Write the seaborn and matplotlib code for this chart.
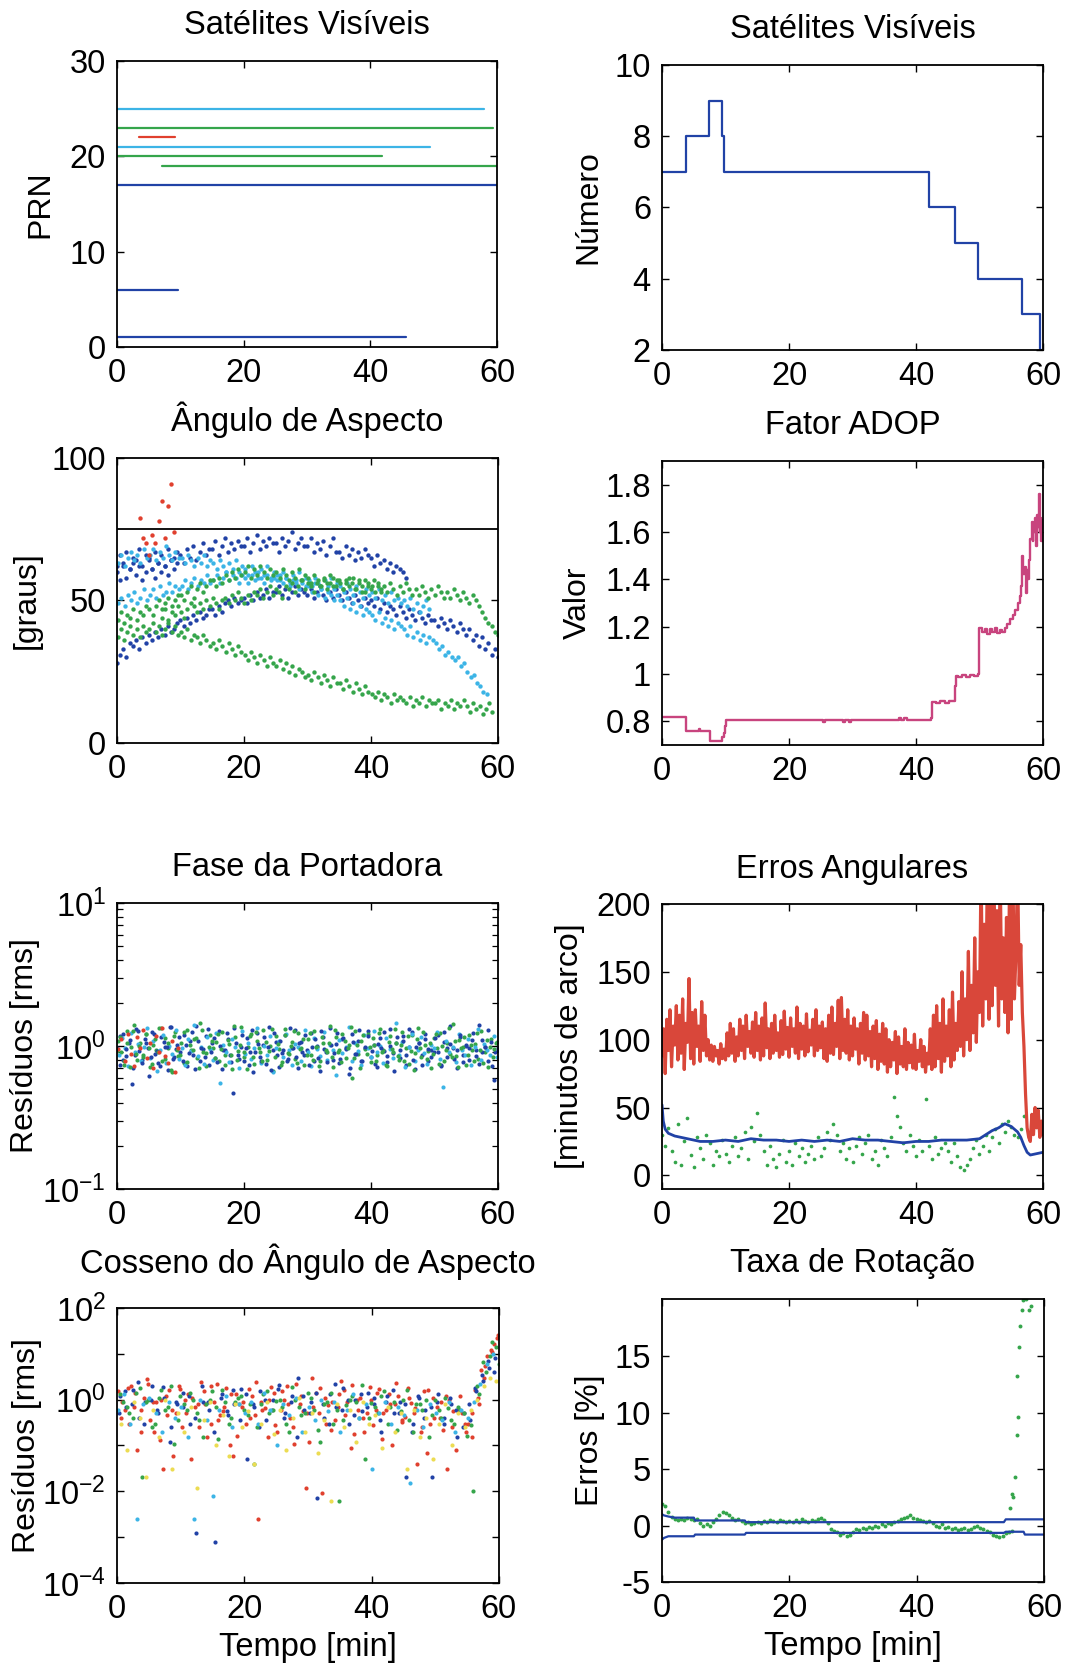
import numpy as np
import matplotlib
matplotlib.use("Agg")
import matplotlib.pyplot as plt
import seaborn as sns
from matplotlib.ticker import FixedLocator, FuncFormatter, NullLocator, LogLocator, NullFormatter

# ------------------------------------------------------------------
# Satélites visíveis: PRN, início e fim (min) de cada passagem
# ------------------------------------------------------------------
PRN_IDS = [25, 23, 22, 21, 20, 19, 17, 6, 1]
PRN_INICIO = [0.0, 0.0, 3.5, 0.0, 0.0, 7.1, 0.0, 0.0, 0.0]
PRN_FIM = [58.0, 59.3, 9.1, 49.4, 41.8, 60.0, 60.0, 9.7, 45.6]
PRN_COR = ["ciano", "verde", "vermelho", "ciano", "verde", "verde", "azul", "azul", "azul"]

# Número de satélites visíveis (degraus)
NUM_T = [0, 3.8, 7.4, 9.5, 9.8, 42.1, 46.1, 49.8, 56.7, 59.5, 60]
NUM_SAT = [7, 8, 9, 8, 7, 6, 5, 4, 3, 2, 2]

# ------------------------------------------------------------------
# Ângulo de aspecto [graus], amostras a cada 0,5 min
# ------------------------------------------------------------------
LIMIAR_ASPECTO = 75
ASP_PRN17 = [28, 31, 33, 30, 35, 34, 36, 33, 37, 35,
             38, 36, 39, 37, 40, 38, 41, 39, 40, 42,
             43, 41, 44, 42, 45, 43, 46, 44, 45, 47,
             47, 45, 48, 46, 49, 50, 48, 51, 49, 50,
             51, 49, 52, 50, 53, 51, 52, 54, 51, 53,
             53, 55, 52, 54, 51, 53, 55, 52, 54, 53,
             52, 54, 51, 53, 55, 52, 50, 53, 51, 54,
             52, 50, 53, 51, 49, 52, 50, 48, 51, 49,
             50, 48, 51, 47, 49, 46, 48, 47, 45, 48,
             46, 44, 47, 45, 43, 46, 44, 42, 45, 43,
             43, 41, 44, 42, 40, 43, 41, 39, 42, 40,
             38, 40, 36, 38, 34, 37, 33, 35, 31, 33, 30]
ASP_PRN1 = [62, 66, 63, 67, 61, 65, 64, 68, 62, 66,
            65, 61, 67, 63, 66, 62, 68, 64, 65, 67,
            66, 63, 68, 65, 69, 64, 67, 70, 66, 68,
            68, 71, 66, 69, 72, 67, 70, 68, 71, 69,
            69, 72, 67, 70, 73, 68, 71, 69, 72, 70,
            70, 67, 72, 69, 71, 74, 68, 70, 72, 69,
            69, 72, 67, 70, 68, 71, 66, 69, 72, 67,
            67, 65, 69, 66, 68, 64, 67, 65, 68, 66,
            65, 62, 66, 63, 64, 61, 63, 60, 62, 61,
            60, 58]
ASP_PRN6 = [60, 57, 62, 58, 61, 63, 59, 62, 57, 60,
            64, 61, 58, 63, 60, 62, 59, 64, 61, 63]
ASP_PRN22 = [79, 72, 70, 66, 73, 70, 78, 85, 72, 83, 91, 74]
ASP_PRN25 = [49, 51, 48, 52, 50, 53, 49, 51, 54, 50,
             52, 54, 51, 55, 52, 53, 56, 53, 55, 54,
             55, 57, 54, 56, 58, 55, 57, 56, 59, 56,
             57, 59, 56, 58, 60, 57, 59, 58, 56, 59,
             58, 56, 59, 57, 60, 58, 56, 59, 57, 58,
             57, 59, 56, 58, 55, 57, 56, 54, 57, 55,
             55, 53, 56, 52, 54, 51, 53, 52, 50, 52,
             50, 48, 51, 47, 49, 46, 48, 45, 47, 46,
             45, 43, 46, 42, 44, 41, 43, 40, 42, 41,
             40, 38, 41, 37, 39, 36, 38, 35, 37, 36,
             35, 33, 34, 31, 32, 30, 29, 30, 27, 28,
             25, 23, 24, 21, 20, 18, 17]
ASP_PRN21 = [63, 66, 62, 65, 67, 64, 66, 63, 68, 65,
             66, 68, 64, 67, 65, 69, 66, 64, 67, 65,
             65, 63, 66, 64, 62, 65, 63, 66, 62, 64,
             63, 61, 64, 62, 60, 63, 61, 64, 60, 62,
             61, 59, 62, 60, 58, 61, 59, 62, 58, 60,
             59, 57, 60, 58, 56, 59, 57, 60, 56, 58,
             57, 55, 58, 56, 54, 57, 55, 58, 54, 56,
             55, 53, 56, 54, 52, 55, 53, 51, 54, 52,
             53, 51, 54, 50, 52, 49, 53, 50, 51, 49,
             50, 48, 51, 47, 49, 46, 48, 50, 47]
ASP_PRN23 = [37, 40, 36, 39, 41, 38, 40, 37, 41, 39,
             40, 42, 39, 41, 38, 40, 42, 39, 41, 38,
             39, 37, 40, 36, 38, 37, 35, 38, 36, 34,
             35, 33, 36, 34, 32, 35, 33, 31, 34, 32,
             31, 29, 32, 30, 28, 31, 29, 27, 30, 28,
             27, 29, 26, 28, 25, 27, 24, 26, 25, 23,
             24, 22, 25, 23, 21, 24, 22, 20, 23, 21,
             21, 19, 22, 20, 18, 21, 19, 17, 20, 18,
             17, 16, 18, 15, 17, 16, 14, 17, 15, 16,
             15, 14, 16, 13, 15, 14, 16, 13, 15, 14,
             14, 15, 12, 14, 13, 15, 12, 14, 13, 15,
             13, 11, 14, 12, 13, 10, 12, 14, 11]
ASP_PRN20 = [43, 46, 42, 45, 44, 47, 43, 46, 45, 48,
             47, 45, 48, 50, 47, 49, 51, 48, 50, 52,
             52, 50, 53, 55, 51, 54, 56, 53, 55, 57,
             57, 55, 58, 56, 59, 57, 60, 58, 61, 59,
             60, 62, 58, 61, 59, 62, 60, 58, 61, 59,
             60, 58, 61, 59, 57, 60, 58, 61, 57, 59,
             58, 56, 59, 57, 55, 58, 56, 59, 55, 57,
             56, 54, 57, 55, 58, 54, 56, 53, 57, 55,
             55, 53, 56, 54]
ASP_PRN19 = [44, 47, 43, 46, 45, 48, 46, 44, 47, 49,
             48, 46, 49, 47, 50, 48, 51, 49, 47, 50,
             51, 49, 52, 50, 53, 51, 49, 52, 50, 53,
             52, 54, 51, 53, 55, 52, 54, 53, 51, 55,
             54, 56, 53, 55, 57, 54, 56, 55, 53, 56,
             55, 57, 54, 56, 58, 55, 57, 54, 56, 58,
             56, 54, 57, 55, 53, 56, 54, 57, 55, 53,
             55, 53, 56, 54, 52, 55, 53, 56, 54, 52,
             54, 52, 55, 53, 51, 54, 52, 55, 53, 51,
             53, 51, 54, 52, 50, 53, 51, 49, 52, 50,
             48, 46, 44, 42, 41, 39, 38]

# ------------------------------------------------------------------
# Fator ADOP
# ------------------------------------------------------------------
ADOP_T = [0, 3.8, 5.8, 6.0, 7.5, 9.5, 9.7, 9.9, 10.0,
          25.4, 25.7, 28.5, 28.8, 29.4, 29.7,
          37.3, 37.6, 38.1, 38.6,
          42.3, 42.5, 43.2, 43.8, 44.5, 45.2,
          46.1, 46.3, 46.6, 47.2, 47.9, 48.5, 49.1, 49.7,
          49.9, 50.0, 50.4, 50.8, 51.2, 51.6, 52.0, 52.4, 52.8, 53.2, 53.6, 54.0,
          54.4, 54.8, 55.2, 55.6, 56.0, 56.3, 56.5, 56.7, 56.9, 57.1,
          57.3, 57.45, 57.6, 57.8, 58.0, 58.2, 58.35, 58.5, 58.7, 58.9,
          59.05, 59.2, 59.35, 59.5, 59.6, 59.7, 60]
ADOP_V = [0.817, 0.758, 0.766, 0.758, 0.716, 0.735, 0.752, 0.778, 0.806,
          0.797, 0.806, 0.797, 0.804, 0.796, 0.806,
          0.812, 0.806, 0.812, 0.806,
          0.812, 0.882, 0.877, 0.885, 0.878, 0.884,
          0.950, 0.992, 0.986, 0.995, 0.988, 0.996, 0.990, 1.000,
          1.080, 1.195, 1.175, 1.190, 1.170, 1.188, 1.178, 1.192, 1.172, 1.186, 1.176, 1.195,
          1.210, 1.230, 1.250, 1.270, 1.300, 1.330, 1.370, 1.500, 1.420, 1.450,
          1.340, 1.440, 1.400, 1.480, 1.570, 1.640, 1.560, 1.600, 1.660, 1.540,
          1.670, 1.620, 1.760, 1.600, 1.660, 1.560, 1.650]

# ------------------------------------------------------------------
# Fase da portadora: resíduos rms, amostras a cada 0,5 min
# ------------------------------------------------------------------
FASE_AZUL_A = [0.96, 0.74, 1.22, 0.85, 1.10, 0.70, 1.31, 0.92, 0.80, 1.05,
               0.62, 1.26, 0.88, 0.76, 1.15, 0.99, 0.68, 1.35, 0.83, 1.02,
               0.90, 1.20, 0.72, 1.08, 0.86, 1.38, 0.78, 0.95, 1.17, 0.73,
               1.04, 0.82, 1.28, 0.69, 0.93, 1.12, 0.77, 1.33, 0.87, 0.98,
               0.79, 1.14, 0.91, 0.66, 1.24, 0.84, 1.01, 0.75, 1.36, 0.94,
               1.07, 0.71, 0.89, 1.19, 0.81, 0.97, 1.29, 0.70, 1.06, 0.86,
               0.93, 1.23, 0.78, 1.00, 0.67, 1.16, 0.90, 1.34, 0.80, 1.03,
               0.76, 1.11, 0.95, 0.64, 1.21, 0.88, 1.09, 0.79, 0.97, 1.27,
               0.84, 1.02, 0.71, 1.13, 0.92, 0.77, 1.32, 0.89, 1.05, 0.82,
               1.18, 0.74, 0.99, 1.25, 0.69, 1.04, 0.86, 1.12, 0.78, 0.94,
               0.91, 1.20, 0.73, 1.07, 0.83, 1.37, 0.96, 0.70, 1.15, 0.87,
               1.00, 0.80, 1.24, 0.93, 0.75, 1.10, 0.98, 1.30, 0.72, 0.90, 0.97]
FASE_VERDE_A = [1.08, 0.90, 0.74, 1.27, 0.98, 1.40, 0.80, 1.05, 0.87, 1.22,
                0.71, 1.01, 0.93, 1.33, 0.79, 1.14, 0.96, 0.66, 1.25, 0.85,
                1.04, 0.76, 1.30, 0.94, 1.11, 0.82, 1.45, 0.91, 0.72, 1.19,
                0.97, 1.07, 0.78, 1.26, 0.86, 1.03, 0.69, 1.16, 0.92, 1.36,
                0.83, 0.99, 1.21, 0.75, 1.09, 0.90, 1.29, 0.80, 1.00, 0.67,
                1.18, 0.95, 0.77, 1.32, 0.88, 1.06, 0.81, 1.23, 0.96, 0.73,
                1.12, 0.86, 1.28, 0.98, 0.79, 1.04, 0.90, 1.37, 0.71, 1.15,
                0.93, 1.21, 0.82, 1.01, 0.60, 1.27, 0.88, 1.08, 0.95, 1.22,
                0.77, 1.02, 0.86, 1.31, 0.94, 0.72, 1.17, 0.91, 1.05, 0.80,
                1.25, 0.97, 0.75, 1.19, 0.89, 1.34, 0.83, 1.01, 0.92, 0.70,
                1.13, 0.96, 1.24, 0.79, 1.04, 0.88, 1.42, 0.85, 1.10, 0.98,
                0.74, 1.20, 0.93, 1.03, 0.81, 1.28, 0.90, 0.71, 1.12, 0.95, 1.06]
FASE_CIANO = [0.86, 1.14, 0.97, 0.72, 1.24, 0.90, 1.03, 0.78, 0.99, 1.33,
              0.82, 1.08, 0.67, 0.94, 1.20, 0.76, 1.00, 0.88, 1.29, 0.81,
              0.97, 0.73, 1.11, 0.92, 1.40, 0.85, 0.99, 0.75, 1.16, 0.95,
              0.80, 1.23, 0.55, 1.02, 0.90, 0.77, 1.12, 0.98, 0.70, 1.27,
              0.88, 1.05, 0.81, 0.96, 1.34, 0.76, 1.00, 0.87, 1.18, 0.66,
              0.97, 1.09, 0.83, 1.22, 0.93, 0.74, 1.03, 0.99, 0.79, 1.30,
              0.91, 0.72, 1.14, 0.95, 0.85, 1.25, 0.80, 1.02, 0.94, 0.63,
              1.10, 0.89, 0.98, 1.36, 0.78, 1.04, 0.92, 0.73, 1.19, 0.97,
              0.83, 1.28, 0.90, 1.00, 0.76, 1.13, 0.95, 0.82, 1.44, 0.87,
              1.06, 0.71, 0.99, 1.22, 0.79, 0.94, 1.15, 0.89, 0.75, 1.02,
              0.97, 1.26, 0.81, 0.52, 1.08, 0.90, 0.99, 0.77, 1.21, 0.93,
              0.86, 1.11, 0.74, 0.98, 1.31, 0.80, 1.03, 0.94, 0.87, 1.17, 0.83]
FASE_AZUL_B = [1.18, 0.80, 0.95, 1.04, 0.54, 0.87, 1.28, 0.76, 1.11, 0.97,
               0.84, 1.22, 0.92, 0.72, 1.06, 0.99, 1.35, 0.81, 0.95, 1.15,
               0.78, 1.01, 0.89, 1.26, 0.69, 1.09, 0.97, 0.83, 1.31, 0.91,
               1.13, 0.77, 1.00, 0.94, 1.23, 0.86, 0.47, 1.05, 0.81, 1.19,
               0.96, 0.74, 1.29, 0.90, 1.03, 0.79, 1.16, 0.99, 0.68, 1.24,
               0.87, 1.08, 0.93, 0.78, 1.34, 0.97, 0.84, 1.04, 0.91, 1.20,
               0.73, 0.99, 1.12, 0.82, 1.27, 0.95, 0.77, 1.02, 0.89, 1.23,
               0.81, 1.14, 0.96, 0.70, 1.06, 0.88, 1.30, 0.79, 0.98, 1.17,
               0.92, 0.75, 1.03, 0.97, 1.25, 0.85, 1.00, 0.67, 1.15, 0.93,
               1.09, 0.86, 1.32, 0.80, 0.99, 1.05, 0.74, 1.21, 0.95, 0.83,
               1.13, 0.91, 0.72, 1.26, 0.97, 1.03, 0.81, 0.94, 1.19, 0.77,
               1.01, 0.96, 1.10, 0.85, 1.39, 0.90, 0.98, 0.79, 1.07, 0.58, 0.94]
FASE_VERDE_B = [0.92, 1.16, 0.79, 1.05, 0.71, 1.28, 0.88, 1.00, 0.83, 1.21,
                0.97, 0.75, 1.12, 0.90, 1.34, 0.81, 1.04, 0.68, 1.18, 0.94,
                0.86, 1.25, 0.77, 1.02, 0.93, 1.14, 0.70, 1.30, 0.89, 0.99,
                1.08, 0.82, 1.22, 0.95, 0.74, 1.10, 0.87, 1.37, 0.80, 1.01,
                0.91, 0.69, 1.17, 0.84, 1.26, 0.96, 0.78, 1.06, 0.92, 1.32,
                0.83, 1.03, 0.73, 1.19, 0.89, 1.00, 1.27, 0.76, 0.95, 1.11,
                0.86, 1.23, 0.80, 0.98, 0.72, 1.15, 0.93, 1.05, 0.84, 1.29,
                0.90, 0.77, 1.09, 0.96, 1.35, 0.82, 1.02, 0.70, 1.20, 0.88,
                0.99, 1.13, 0.79, 1.24, 0.91, 0.74, 1.07, 0.95, 1.31, 0.85,
                1.01, 0.78, 1.18, 0.92, 0.68, 1.12, 0.97, 1.26, 0.81, 1.04,
                0.88, 1.21, 0.75, 1.00, 0.94, 1.33, 0.83, 1.08, 0.71, 0.96,
                1.15, 0.87, 1.02, 0.79, 1.24, 0.93, 0.76, 1.10, 0.98, 0.84, 1.05]
FASE_VERMELHO = [0.95, 1.12, 0.78, 1.22, 0.88, 0.72, 1.15, 0.97, 1.30, 0.82,
                 1.04, 0.70, 1.18, 0.91, 1.33, 0.85, 0.76, 1.08, 0.66, 0.96]

# ------------------------------------------------------------------
# Erros angulares [minutos de arco]
# ------------------------------------------------------------------
ERRO_VERMELHO = [88, 108, 75, 115, 92, 122, 80, 110, 96, 125,
                 85, 118, 90, 130, 78, 112, 98, 145, 86, 120,
                 82, 122, 95, 110, 84, 128, 92, 118, 88, 100, 85, 96,
                 84, 95, 88, 92, 82, 97, 86, 93, 85, 105, 88, 112,
                 90, 108, 84, 102, 88, 115, 92, 110, 86, 118, 95, 106,
                 90, 113, 87, 120, 92, 110, 85, 116, 88, 127, 94, 108,
                 86, 112, 90, 118, 92, 105, 87, 114, 89, 121, 93, 109,
                 87, 116, 95, 108, 90, 124, 86, 112, 93, 110, 88, 119,
                 91, 107, 96, 115, 88, 122, 92, 110, 94, 113, 86, 108,
                 84, 118, 90, 124, 89, 112, 95, 129, 86, 131, 92, 115,
                 90, 122, 85, 110, 88, 116, 93, 108, 82, 112, 90, 120,
                 85, 118, 88, 106, 80, 110, 86, 114, 78, 104, 84, 112,
                 82, 108, 76, 100, 80, 98, 85, 106, 75, 102, 82, 95,
                 80, 108, 78, 98, 83, 96, 79, 104, 78, 92, 84, 100,
                 80, 95, 76, 90, 82, 108, 78, 118, 80, 125, 86, 112,
                 76, 130, 84, 110, 88, 122, 80, 135, 85, 112, 92, 128,
                 95, 150, 88, 130, 100, 165, 92, 140, 105, 175, 98, 150,
                 120, 230, 110, 185, 130, 230, 115, 230, 125, 230, 140, 195,
                 110, 230, 130, 175, 120, 190, 105, 230, 115, 230, 130, 165,
                 230, 140, 170, 120, 95, 60, 35, 28, 25, 45, 30, 50,
                 35, 48, 28, 40, 30]
ERRO_AZUL_T = [0, 0.2, 0.5, 1, 2, 3, 4, 5, 6, 8, 10, 12, 14, 16, 18, 20, 22, 24,
               26, 28, 30, 32, 34, 36, 38, 40, 42, 44, 46, 48, 50, 51, 52, 53, 54,
               54.5, 55, 55.5, 56, 56.5, 57, 57.5, 58, 59, 60]
ERRO_AZUL = [52, 40, 34, 31, 29, 28, 27, 26, 25, 25, 26, 25, 27, 26, 26, 25, 26, 25,
             26, 25, 27, 26, 26, 25, 24, 25, 25, 26, 26, 26, 27, 30, 33, 35, 38,
             37, 36, 34, 32, 28, 22, 17, 15, 16, 17]
ERRO_VERDE = [30, 22, 35, 18, 10, 38, 8, 25, 42, 15,
              6, 28, 20, 12, 30, 24, 8, 18, 14, 26,
              16, 10, 22, 28, 14, 20, 32, 12, 36, 25,
              46, 30, 18, 8, 22, 12, 6, 16, 26, 10,
              18, 8, 24, 14, 20, 10, 16, 22, 12, 28,
              14, 20, 32, 26, 38, 30, 18, 24, 12, 20,
              10, 22, 28, 16, 24, 30, 12, 18, 8, 26,
              20, 14, 28, 58, 44, 36, 24, 18, 30, 22,
              14, 26, 18, 56, 22, 12, 28, 16, 20, 24,
              18, 10, 24, 14, 6, 4, 8, 12, 20, 26,
              16, 22, 30, 18, 28, 34, 24, 38, 32, 40,
              36, 30, 28, 34, 44]

# ------------------------------------------------------------------
# Cosseno do ângulo de aspecto: resíduos rms, uma amostra por minuto
# ------------------------------------------------------------------
COS_VERMELHO_A = [1.5, 0.6, 2.0, 0.08, 1.1, 0.35, 0.9, 0.03, 1.6, 0.5,
                  0.25, 1.3, 0.7, 2.4, 0.15, 0.9, 0.45, 1.8, 0.06, 0.8,
                  0.3, 1.2, 0.0025, 0.65, 1.9, 0.2, 1.0, 0.4, 2.2, 0.55,
                  0.12, 1.4, 0.009, 0.75, 0.35, 2.6, 0.9, 0.18, 1.1, 0.5,
                  0.28, 1.7, 0.6, 0.1, 1.2, 0.42, 0.85, 0.04, 1.5, 0.3,
                  0.7, 0.22, 1.0, 0.08, 0.5, 0.3, 1.6, 4.5, 9.0, 16.0]
COS_VERMELHO_B = [0.4, 1.8, 0.7, 0.2, 2.8, 0.9, 0.13, 1.2, 0.6, 2.0,
                  1.0, 0.05, 0.8, 1.5, 0.3, 2.2, 0.55, 0.1, 1.3, 0.7,
                  1.7, 0.45, 0.9, 0.15, 1.4, 0.6, 2.0, 0.25, 0.8, 0.012,
                  3.0, 0.5, 1.1, 0.22, 0.7, 1.6, 0.09, 1.0, 0.4, 1.9,
                  0.6, 0.14, 1.3, 0.8, 0.33, 1.8, 0.5, 0.2, 0.07, 1.1,
                  0.4, 1.2, 0.25, 0.6, 0.3, 0.15, 1.1, 3.0, 12.0, 22.0]
COS_VERMELHO_C = [0.9, 0.3, 1.4, 0.6, 2.2, 0.2, 1.0, 0.45, 0.06, 1.7,
                  0.5, 1.1, 0.25, 0.8, 2.0, 0.35, 0.7, 1.3, 0.16, 0.9,
                  0.4, 2.4, 0.6, 1.0, 0.28, 1.5, 0.8, 0.11, 1.2, 0.5,
                  0.7, 1.8, 0.3, 0.9, 1.3, 0.45, 2.1, 0.6, 0.2, 1.0,
                  1.4, 0.5, 0.8, 2.3, 0.35, 1.1, 0.65, 0.25, 1.6, 0.4,
                  0.9, 0.03, 0.55, 1.2, 0.2, 0.5, 0.8, 5.5, 11.0, 25.0]
COS_AZUL_A = [1.2, 0.7, 1.6, 0.4, 0.9, 2.0, 0.5, 1.1, 0.25, 0.8,
              1.4, 0.3, 0.0012, 0.9, 0.6, 0.0008, 1.3, 0.45, 0.8, 1.7,
              0.05, 0.7, 1.5, 0.35, 1.0, 2.1, 0.5, 1.2, 3.0, 0.6,
              0.9, 0.007, 0.4, 1.3, 0.7, 1.8, 0.3, 1.0, 0.55, 1.4,
              0.8, 0.2, 1.2, 0.5, 0.9, 0.02, 0.3, 1.1, 0.6, 0.02,
              1.3, 0.4, 0.8, 0.15, 0.5, 0.35, 1.5, 2.5, 5.0, 8.0]
COS_AZUL_B = [0.5, 1.5, 0.8, 2.4, 0.3, 1.0, 0.6, 1.9, 0.12, 0.9,
              0.7, 1.2, 0.4, 2.0, 0.9, 0.2, 1.1, 0.55, 1.6, 0.35,
              1.3, 0.8, 0.25, 1.0, 0.6, 1.7, 0.4, 0.9, 0.15, 1.2,
              0.5, 1.4, 0.8, 0.3, 2.2, 0.6, 1.0, 0.45, 1.3, 0.7,
              1.1, 0.35, 0.9, 1.6, 0.5, 0.8, 0.2, 1.2, 0.4, 0.7,
              0.9, 0.3, 1.1, 0.6, 0.25, 0.8, 1.8, 3.5, 7.0, 4.0]
COS_VERDE_A = [0.9, 0.5, 1.4, 0.02, 1.0, 0.3, 1.6, 0.7, 0.11, 1.2,
               0.6, 1.0, 0.35, 0.8, 1.5, 0.14, 0.9, 0.4, 1.1, 0.6,
               0.8, 0.25, 1.3, 0.5, 0.95, 0.7, 0.2, 1.0, 0.45, 1.4,
               0.6, 0.12, 0.9, 0.3, 0.006, 0.75, 1.2, 0.4, 0.05, 0.85,
               0.5, 1.5, 0.7, 0.22, 1.0, 0.35, 0.8, 0.6, 0.15, 1.0,
               0.4, 0.65, 0.3, 0.6, 0.16, 0.01, 1.3, 4.0, 18.0, 6.0]
COS_VERDE_B = [1.3, 0.7, 0.4, 1.8, 0.9, 0.25, 1.1, 0.6, 2.0, 0.35,
               0.8, 1.4, 0.5, 0.15, 1.0, 0.7, 1.6, 0.3, 0.9, 1.2,
               0.45, 0.04, 0.8, 1.5, 0.6, 1.0, 0.3, 1.9, 0.7, 0.5,
               1.1, 0.22, 0.8, 1.4, 0.6, 0.35, 1.0, 0.9, 2.1, 0.4,
               0.7, 1.2, 0.3, 0.9, 0.55, 1.6, 0.2, 0.8, 1.0, 0.45,
               0.6, 1.1, 0.35, 0.7, 0.5, 0.28, 2.0, 6.5, 9.0, 14.0]
COS_CIANO = [0.6, 1.3, 0.3, 0.0025, 0.8, 1.1, 0.5, 0.2, 0.9, 0.4,
             0.7, 0.15, 0.0025, 1.0, 0.35, 0.008, 0.6, 1.2, 0.25, 0.8,
             0.5, 0.9, 0.3, 1.4, 0.6, 0.1, 0.8, 0.45, 1.1, 0.2,
             0.7, 0.35, 1.0, 0.55, 0.9, 0.2, 0.6, 1.3, 0.4, 0.8,
             0.03, 0.5, 0.9, 0.3, 0.7, 0.45, 0.015, 0.6, 0.25, 0.8,
             0.5, 0.35, 0.9, 0.2, 0.6, 0.4, 0.9, 2.2, 6.0, 10.0]
COS_AMARELO = [0.3, 0.08, 0.9, 0.4, 0.02, 0.6, 0.15, 1.0, 0.03, 0.5,
               0.2, 0.7, 0.012, 0.35, 0.9, 0.1, 0.45, 0.06, 0.8, 0.25,
               0.55, 0.04, 0.3, 0.9, 0.18, 0.6, 0.08, 0.4, 1.1, 0.2,
               0.5, 0.07, 0.35, 0.006, 0.8, 0.25, 0.6, 0.12, 0.9, 0.3,
               0.45, 0.09, 0.7, 0.2, 0.5, 0.03, 0.6, 0.15, 0.4, 0.05,
               0.3, 0.8, 0.1, 0.5, 0.25, 0.6, 1.0, 2.0, 3.0, 2.5]

# ------------------------------------------------------------------
# Taxa de rotação: erros [%]
# ------------------------------------------------------------------
TAXA_SUP_T = [0, 0.3, 1, 2, 5, 5.2, 13, 13.2, 53.7, 54.0, 60]
TAXA_SUP = [1.0, 0.9, 0.8, 0.7, 0.7, 0.45, 0.45, 0.3, 0.3, 0.55, 0.55]
TAXA_INF_T = [0, 0.3, 1, 5, 5.2, 13, 13.2, 53.7, 54.0, 56.8, 57.0, 60]
TAXA_INF = [-1.25, -1.1, -0.95, -0.95, -0.8, -0.8, -0.65, -0.65, -0.55, -0.55, -0.8, -0.8]
TAXA_VERDE = [1.9, 1.7, 1.2, 0.8, 0.6, 0.5, 0.6, 0.5, 0.7, 0.6,
              0.5, 0.6, 0.2, 0.0, 0.1, 0.0, 0.3, 0.6, 0.9, 1.2,
              1.1, 0.9, 0.7, 0.5, 0.6, 0.4, 0.2, 0.3, 0.1, 0.2,
              0.3, 0.2, 0.4, 0.3, 0.5, 0.4, 0.3, 0.5, 0.4, 0.3,
              0.4, 0.3, 0.5, 0.3, 0.6, 0.4, 0.3, 0.5, 0.4, 0.6,
              0.7, 0.5, 0.2, -0.3, -0.5, -0.6, -0.8, -0.7, -0.9, -0.8,
              -0.6, -0.3, -0.4, -0.2, -0.3, -0.1, -0.2, 0.0, -0.1, 0.1,
              0.0, 0.2, 0.1, 0.3, 0.4, 0.6, 0.7, 0.8, 0.9, 0.7,
              0.6, 0.5, 0.4, 0.3, 0.4, 0.2, 0.0, -0.1, 0.1, -0.2,
              -0.1, -0.3, -0.2, -0.4, -0.3, -0.2, -0.4, -0.3, -0.1, 0.0,
              -0.2, -0.3, -0.5, -0.6, -0.8, -0.9, -1.0, -0.9, -0.7, -0.6,
              -0.5]
TAXA_PICO_T = [54.6, 55.0, 55.2, 55.4, 55.7, 55.8, 55.9, 56.05, 56.2, 56.6, 56.7,
               57.1, 57.6, 57.9]
TAXA_PICO = [1.6, 2.8, 2.5, 4.3, 8.0, 13.3, 9.6, 15.8, 17.7, 19.1, 20.0,
             20.1, 19.1, 19.5]

TEMPO_TICKS = [0, 20, 40, 60]

# ------------------------------------------------------------------
# estilo
# ------------------------------------------------------------------
CORES = {"azul": "#2142a6", "ciano": "#3cb4e6", "verde": "#35a54b",
         "vermelho": "#e0402e", "magenta": "#c8447e", "amarelo": "#ecdc52",
         "linha_vermelha": "#d9473a"}
FS = 23.5
FS_YLAB = 23

sns.set_theme(style="white")
plt.rcParams["font.family"] = ["Liberation Sans", "DejaVu Sans"]
plt.rcParams["mathtext.fontset"] = "custom"
plt.rcParams["mathtext.rm"] = "Liberation Sans"
plt.rcParams["mathtext.it"] = "Liberation Sans:italic"
plt.rcParams["mathtext.bf"] = "Liberation Sans:bold"
plt.rcParams["axes.unicode_minus"] = False

fig = plt.figure(figsize=(10.86, 16.68), dpi=100)

POS = {
    "prn": [0.1077, 0.7920, 0.3499, 0.1715],
    "num": [0.6096, 0.7902, 0.3508, 0.1709],
    "asp": [0.1077, 0.5546, 0.3508, 0.1709],
    "adop": [0.6096, 0.5534, 0.3508, 0.1703],
    "fase": [0.1077, 0.2872, 0.3508, 0.1715],
    "erro": [0.6096, 0.2872, 0.3508, 0.1709],
    "cos": [0.1077, 0.0510, 0.3517, 0.1649],
    "taxa": [0.6096, 0.0516, 0.3517, 0.1697],
}


def epocas(t0, t1, valores):
    return np.linspace(t0, t1, len(valores))


def estilo(ax, titulo, ylabel, ylab_x, title_pad=19):
    for s in ax.spines.values():
        s.set_visible(True)
        s.set_color("black")
        s.set_linewidth(1.3)
    ax.tick_params(which="both", direction="in", top=True, right=True,
                   bottom=True, left=True, color="black", labelcolor="black",
                   labelsize=FS, width=1.0, length=5, pad=8)
    ax.tick_params(which="minor", length=4, width=0.9)
    ax.set_xlim(0, 60)
    ax.xaxis.set_major_locator(FixedLocator(TEMPO_TICKS))
    ax.xaxis.set_major_formatter(FuncFormatter(lambda v, p: "%g" % v))
    ax.set_title(titulo, fontsize=FS, pad=title_pad, color="black")
    ax.set_ylabel(ylabel, fontsize=FS_YLAB, color="black")
    ax.yaxis.set_label_coords(ylab_x, 0.5)
    ax.set_xlabel("")


def fmt_g(v, p):
    return "%g" % v


def fmt_pot(v, p):
    e = int(round(np.log10(v)))
    return r"$\mathregular{10^{%d}}$" % e


def pontos(ax, x, y, cor, s=9):
    sns.scatterplot(x=x, y=y, ax=ax, color=cor, s=s, marker="o",
                    linewidth=0, legend=False)


def linha(ax, x, y, cor, lw=1.5, **kw):
    sns.lineplot(x=x, y=y, ax=ax, color=cor, linewidth=lw, estimator=None,
                 sort=False, legend=False, **kw)


# --- PRN dos satélites visíveis ---
ax = fig.add_axes(POS["prn"])
for prn, t0, t1, c in zip(PRN_IDS, PRN_INICIO, PRN_FIM, PRN_COR):
    linha(ax, [t0, t1], [prn, prn], CORES[c], lw=1.6)
estilo(ax, "Satélites Visíveis", "PRN", -0.163)
ax.set_ylim(0, 30)
ax.yaxis.set_major_locator(FixedLocator([0, 10, 20, 30]))
ax.yaxis.set_major_formatter(FuncFormatter(fmt_g))

# --- número de satélites ---
ax = fig.add_axes(POS["num"])
linha(ax, NUM_T, NUM_SAT, CORES["azul"], lw=1.6, drawstyle="steps-post")
estilo(ax, "Satélites Visíveis", "Número", -0.155)
ax.set_ylim(2, 10)
ax.yaxis.set_major_locator(FixedLocator([2, 4, 6, 8, 10]))
ax.yaxis.set_major_formatter(FuncFormatter(fmt_g))

# --- ângulo de aspecto ---
ax = fig.add_axes(POS["asp"])
pontos(ax, epocas(0, 60, ASP_PRN17), ASP_PRN17, CORES["azul"], s=10)
pontos(ax, epocas(0, 45.5, ASP_PRN1), ASP_PRN1, CORES["azul"], s=10)
pontos(ax, epocas(0, 9.5, ASP_PRN6), ASP_PRN6, CORES["azul"], s=10)
pontos(ax, epocas(0.2, 58.2, ASP_PRN25), ASP_PRN25, CORES["ciano"], s=10)
pontos(ax, epocas(0.2, 49.2, ASP_PRN21), ASP_PRN21, CORES["ciano"], s=10)
pontos(ax, epocas(0.1, 59.1, ASP_PRN23), ASP_PRN23, CORES["verde"], s=10)
pontos(ax, epocas(0.1, 41.6, ASP_PRN20), ASP_PRN20, CORES["verde"], s=10)
pontos(ax, epocas(7.1, 60, ASP_PRN19), ASP_PRN19, CORES["verde"], s=10)
pontos(ax, epocas(3.6, 9.0, ASP_PRN22), ASP_PRN22, CORES["vermelho"], s=10)
ax.axhline(LIMIAR_ASPECTO, color="black", linewidth=1.3)
estilo(ax, "Ângulo de Aspecto", "[graus]", -0.197)
ax.set_ylim(0, 100)
ax.yaxis.set_major_locator(FixedLocator([0, 50, 100]))
ax.yaxis.set_major_formatter(FuncFormatter(fmt_g))

# --- fator ADOP ---
ax = fig.add_axes(POS["adop"])
linha(ax, ADOP_T, ADOP_V, CORES["magenta"], lw=1.7, drawstyle="steps-post")
estilo(ax, "Fator ADOP", "Valor", -0.181)
ax.set_ylim(0.7, 1.9)
ax.yaxis.set_major_locator(FixedLocator([0.8, 1.0, 1.2, 1.4, 1.6, 1.8]))
ax.yaxis.set_major_formatter(FuncFormatter(fmt_g))

# --- fase da portadora ---
ax = fig.add_axes(POS["fase"])
ax.set_yscale("log")
pontos(ax, epocas(0.0, 60.0, FASE_AZUL_A), FASE_AZUL_A, CORES["azul"])
pontos(ax, epocas(0.15, 59.9, FASE_VERDE_A), FASE_VERDE_A, CORES["verde"])
pontos(ax, epocas(0.3, 59.8, FASE_CIANO), FASE_CIANO, CORES["ciano"])
pontos(ax, epocas(0.4, 59.95, FASE_AZUL_B), FASE_AZUL_B, CORES["azul"])
pontos(ax, epocas(0.05, 59.7, FASE_VERDE_B), FASE_VERDE_B, CORES["verde"])
pontos(ax, epocas(0.2, 9.6, FASE_VERMELHO), FASE_VERMELHO, CORES["vermelho"])
estilo(ax, "Fase da Portadora", "Resíduos [rms]", -0.202)
ax.set_ylim(0.1, 10)
ax.yaxis.set_major_locator(FixedLocator([0.1, 1, 10]))
ax.yaxis.set_major_formatter(FuncFormatter(fmt_pot))
ax.yaxis.set_minor_locator(LogLocator(base=10, subs=np.arange(2, 10)))
ax.yaxis.set_minor_formatter(NullFormatter())

# --- erros angulares ---
ax = fig.add_axes(POS["erro"])
linha(ax, epocas(0, 60, ERRO_VERMELHO), ERRO_VERMELHO, CORES["linha_vermelha"], lw=2.3)
pontos(ax, epocas(0, 57, ERRO_VERDE), ERRO_VERDE, CORES["verde"], s=7)
linha(ax, ERRO_AZUL_T, ERRO_AZUL, CORES["azul"], lw=2.0)
estilo(ax, "Erros Angulares", "[minutos de arco]", -0.202)
ax.set_ylim(-10, 200)
ax.yaxis.set_major_locator(FixedLocator([0, 50, 100, 150, 200]))
ax.yaxis.set_major_formatter(FuncFormatter(fmt_g))

# --- cosseno do ângulo de aspecto ---
ax = fig.add_axes(POS["cos"])
ax.set_yscale("log")
pontos(ax, epocas(0.2, 59.2, COS_VERMELHO_A), COS_VERMELHO_A, CORES["vermelho"])
pontos(ax, epocas(0.7, 59.7, COS_VERMELHO_B), COS_VERMELHO_B, CORES["vermelho"])
pontos(ax, epocas(0.85, 59.85, COS_VERMELHO_C), COS_VERMELHO_C, CORES["vermelho"])
pontos(ax, epocas(0.45, 59.45, COS_AZUL_A), COS_AZUL_A, CORES["azul"])
pontos(ax, epocas(0.3, 59.3, COS_AZUL_B), COS_AZUL_B, CORES["azul"])
pontos(ax, epocas(0.95, 59.95, COS_VERDE_A), COS_VERDE_A, CORES["verde"])
pontos(ax, epocas(0.55, 59.55, COS_VERDE_B), COS_VERDE_B, CORES["verde"])
pontos(ax, epocas(0.1, 59.1, COS_CIANO), COS_CIANO, CORES["ciano"])
pontos(ax, epocas(0.6, 59.6, COS_AMARELO), COS_AMARELO, CORES["amarelo"])
estilo(ax, "Cosseno do Ângulo de Aspecto", "Resíduos [rms]", -0.196, title_pad=25)
ax.set_ylim(1e-4, 1e2)
ax.yaxis.set_major_locator(FixedLocator([1e-4, 1e-3, 1e-2, 1e-1, 1, 10, 100]))
ax.yaxis.set_major_formatter(FuncFormatter(
    lambda v, p: fmt_pot(v, p) if int(round(np.log10(v))) % 2 == 0 else ""))
ax.yaxis.set_minor_locator(NullLocator())
ax.set_xlabel("Tempo [min]", fontsize=FS, labelpad=5, color="black")

# --- taxa de rotação ---
ax = fig.add_axes(POS["taxa"])
linha(ax, TAXA_SUP_T, TAXA_SUP, CORES["azul"], lw=1.6)
linha(ax, TAXA_INF_T, TAXA_INF, CORES["azul"], lw=1.6)
pontos(ax, epocas(0, 55, TAXA_VERDE), TAXA_VERDE, CORES["verde"], s=8)
pontos(ax, TAXA_PICO_T, TAXA_PICO, CORES["verde"], s=8)
estilo(ax, "Taxa de Rotação", "Erros [%]", -0.149)
ax.set_ylim(-5, 20.1)
ax.yaxis.set_major_locator(FixedLocator([-5, 0, 5, 10, 15]))
ax.yaxis.set_major_formatter(FuncFormatter(fmt_g))
ax.set_xlabel("Tempo [min]", fontsize=FS, labelpad=5, color="black")

fig.savefig("out.png", dpi=100, facecolor="white")
